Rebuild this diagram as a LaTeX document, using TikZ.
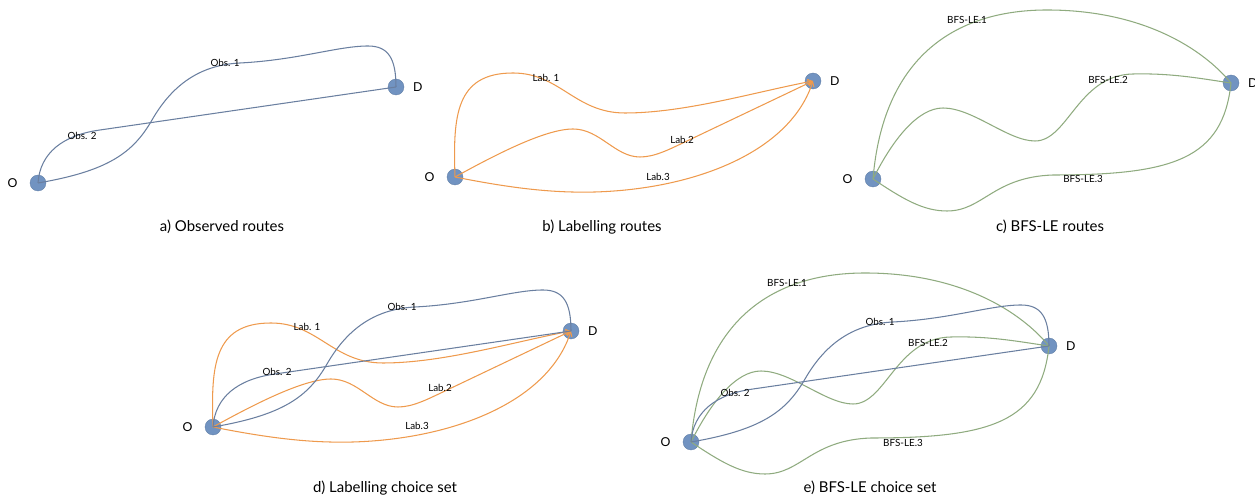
\documentclass[tikz,border=0pt]{standalone}
\usepackage{fontspec}
\setmainfont{Lato}
\usetikzlibrary{positioning,arrows.meta}

\definecolor{stopblue}{HTML}{7193C1}
\definecolor{obsline}{HTML}{6A7FA0}
\definecolor{labline}{HTML}{EE9A4D}
\definecolor{bfsline}{HTML}{8FAB7F}

% routes, in the panel's own frame (O at the origin)
\newcommand{\obsone}[2]{%
  \draw[obs] (o-#1.center) .. controls (70,12) and (95,30) .. (114,63)
    .. controls (133,96) and (160,118) .. (202,120)
    .. controls (260,123) and (300,137) .. (330,137)
    .. controls (350,137) and (358,125) .. (d-#1.center);
  \node[routelabel] (obs1-#1) at (#2) {Obs. 1};}
\newcommand{\obstwo}[2]{%
  \draw[obs] (o-#1.center) .. controls (2,30) and (25,48) .. (62,53) -- (d-#1.center);
  \node[routelabel] (obs2-#1) at (#2) {Obs. 2};}
\newcommand{\labone}[2]{%
  \draw[lab] (o-#1.center) .. controls (-2,60) and (0,104) .. (58,104)
    .. controls (105,104) and (120,64) .. (170,64)
    .. controls (230,64) and (300,85) .. (d-#1.center);
  \node[routelabel] (lab1-#1) at (#2) {Lab. 1};}
\newcommand{\labtwo}[2]{%
  \draw[lab] (o-#1.center) .. controls (40,22) and (90,48) .. (118,48)
    .. controls (145,48) and (160,20) .. (185,20)
    .. controls (200,20) and (215,28) .. (232,36) -- (d-#1.center);
  \node[routelabel] (lab2-#1) at (#2) {Lab.2};}
\newcommand{\labthree}[2]{%
  \draw[lab] (o-#1.center) .. controls (60,-12) and (100,-16) .. (140,-15)
    .. controls (240,-12) and (335,25) .. (d-#1.center);
  \node[routelabel] (lab3-#1) at (#2) {Lab.3};}
\newcommand{\bfsone}[2]{%
  \draw[bfs] (o-#1.center) .. controls (10,120) and (80,169) .. (174,169)
    .. controls (270,169) and (330,130) .. (d-#1.center);
  \node[routelabel] (bfs1-#1) at (#2) {BFS-LE.1};}
\newcommand{\bfstwo}[2]{%
  \draw[bfs] (o-#1.center) .. controls (20,40) and (45,71) .. (70,71)
    .. controls (100,71) and (135,38) .. (162,38)
    .. controls (195,38) and (205,104) .. (260,105)
    .. controls (300,106) and (330,100) .. (d-#1.center);
  \node[routelabel] (bfs2-#1) at (#2) {BFS-LE.2};}
\newcommand{\bfsthree}[2]{%
  \draw[bfs] (o-#1.center) .. controls (30,-20) and (50,-32) .. (74,-32)
    .. controls (110,-32) and (120,2) .. (180,4)
    .. controls (300,4) and (350,20) .. (d-#1.center);
  \node[routelabel] (bfs3-#1) at (#2) {BFS-LE.3};}

\begin{document}
\begin{tikzpicture}[x=0.02cm, y=0.02cm,
  stop/.style={circle, fill=stopblue, draw=stopblue!85!black, line width=0.2pt, minimum size=0.32cm, inner sep=0pt},
  stoplabel/.style={font=\fontsize{7}{8}\selectfont, inner sep=0pt},
  routelabel/.style={font=\fontsize{5.6}{6.5}\selectfont, inner sep=0pt},
  caption/.style={font=\fontsize{8.5}{10}\selectfont, inner sep=0pt},
  obs/.style={obsline, line width=0.6pt},
  lab/.style={labline, line width=0.6pt, -{Straight Barb[length=2.5pt,width=3pt]}},
  bfs/.style={bfsline, line width=0.6pt}]
  \useasboundingbox (0,0) rectangle (1255,500);

  % a) observed routes
  \begin{scope}[shift={(38,317)}]
    \node[stop] (o-a) at (0,0) {};
    \node[stop] (d-a) at (358,96) {};
    \node[stoplabel, left=0.24cm of o-a] (ol-a) {O};
    \node[stoplabel, right=0.17cm of d-a] (dl-a) {D};
    \obsone{a}{187,120}
    \obstwo{a}{44,47}
  \end{scope}
  \node[caption] (cap-a) at (222,273) {a) Observed routes};

  % b) labelling routes
  \begin{scope}[shift={(455,323)}]
    \node[stop] (o-b) at (0,0) {};
    \node[stop] (d-b) at (358,96) {};
    \node[stoplabel, left=0.24cm of o-b] (ol-b) {O};
    \node[stoplabel, right=0.17cm of d-b] (dl-b) {D};
    \labone{b}{91,99}
    \labtwo{b}{227,37}
    \labthree{b}{203,0}
  \end{scope}
  \node[caption] (cap-b) at (602,273) {b) Labelling routes};

  % c) BFS-LE routes
  \begin{scope}[shift={(873,321)}]
    \node[stop] (o-c) at (0,0) {};
    \node[stop] (d-c) at (358,96) {};
    \node[stoplabel, left=0.24cm of o-c] (ol-c) {O};
    \node[stoplabel, right=0.17cm of d-c] (dl-c) {D};
    \bfsone{c}{94,159}
    \bfstwo{c}{235,99}
    \bfsthree{c}{210,0}
  \end{scope}
  \node[caption] (cap-c) at (1050,273) {c) BFS-LE routes};

  % d) labelling choice set
  \begin{scope}[shift={(213,73)}]
    \node[stop] (o-d) at (0,0) {};
    \node[stop] (d-d) at (358,96) {};
    \node[stoplabel, left=0.24cm of o-d] (ol-d) {O};
    \node[stoplabel, right=0.17cm of d-d] (dl-d) {D};
    \labone{d}{94,100}
    \labtwo{d}{227,39}
    \labthree{d}{204,1}
    \obsone{d}{189,120}
    \obstwo{d}{64,55}
  \end{scope}
  \node[caption] (cap-d) at (385,12) {d) Labelling choice set};

  % e) BFS-LE choice set
  \begin{scope}[shift={(691,58)}]
    \node[stop] (o-e) at (0,0) {};
    \node[stop] (d-e) at (358,96) {};
    \node[stoplabel, left=0.24cm of o-e] (ol-e) {O};
    \node[stoplabel, right=0.17cm of d-e] (dl-e) {D};
    \bfsone{e}{96,159}
    \bfstwo{e}{237,99}
    \bfsthree{e}{212,-1}
    \obsone{e}{189,120}
    \obstwo{e}{44,49}
  \end{scope}
  \node[caption] (cap-e) at (870,12) {e) BFS-LE choice set};
\end{tikzpicture}
\end{document}
